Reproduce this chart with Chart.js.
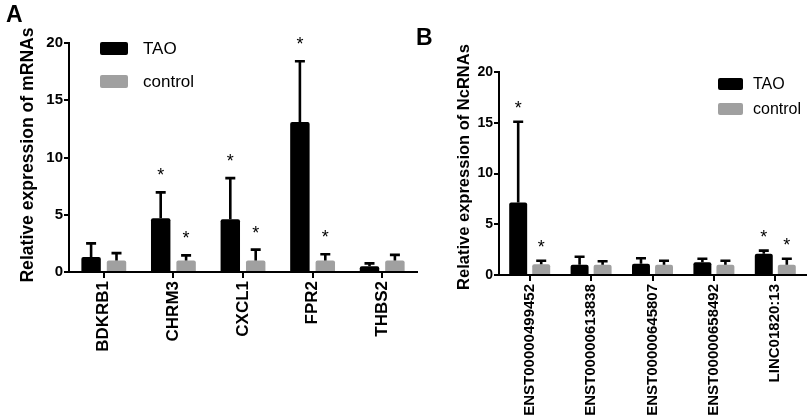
<!DOCTYPE html>
<html>
<head>
<meta charset="utf-8">
<script src="https://cdn.jsdelivr.net/npm/chart.js@4.4.1/dist/chart.umd.min.js"></script>
<style>
  body { margin: 0; background: #fff; }
  #wrap { position: relative; width: 809px; height: 420px; overflow: hidden; }
  .panel { position: absolute; top: 0; height: 420px; }
  .letter { position: absolute; font: bold 23px "Liberation Sans", Arial, sans-serif; color: #000; }
</style>
</head>
<body>
<div id="wrap">
  <div class="panel" style="left:0;width:425px"><canvas id="chartA"></canvas></div>
  <div class="panel" style="left:425px;width:384px"><canvas id="chartB"></canvas></div>
  <div class="letter" style="left:6px;top:1px">A</div>
  <div class="letter" style="left:416px;top:24px">B</div>
</div>
<script>
// panel A - mRNAs
const mrnaGenes = ["BDKRB1", "CHRM3", "CXCL1", "FPR2", "THBS2"];
const mrnaTao = [1.3, 4.7, 4.6, 13.1, 0.5];
const mrnaTaoSd = [1.2, 2.25, 3.6, 5.3, 0.25];
const mrnaCtrl = [1.0, 1.0, 1.0, 1.0, 1.0];
const mrnaCtrlSd = [0.65, 0.45, 0.95, 0.55, 0.5];
const mrnaTaoSig = [false, true, true, true, false];
const mrnaCtrlSig = [false, true, true, true, false];

// panel B - NcRNAs
const ncGenes = ["ENST00000499452", "ENST00000613838", "ENST00000645807", "ENST00000658492", "LINC01820:13"];
const ncTao = [7.15, 1.0, 1.1, 1.25, 2.1];
const ncTaoSd = [7.95, 0.8, 0.55, 0.35, 0.3];
const ncCtrl = [1.05, 1.0, 1.0, 1.0, 1.0];
const ncCtrlSd = [0.35, 0.35, 0.4, 0.4, 0.6];
const ncTaoSig = [true, false, false, false, true];
const ncCtrlSig = [true, false, false, false, true];

const yTicks = [0, 5, 10, 15, 20];

const FONT = '"Liberation Sans", Arial, sans-serif';
const TAO_COLOR = "#000000";
const CTRL_COLOR = "#a0a0a0";

// error bars (upper only), asterisks, y title and the inset legend
const errorBarPlugin = {
  id: "errorBars",
  afterDatasetsDraw(chart, args, opts) {
    const ctx = chart.ctx;
    const y = chart.scales.y;
    ctx.save();
    chart.data.datasets.forEach((ds, di) => {
      const meta = chart.getDatasetMeta(di);
      meta.data.forEach((bar, i) => {
        const top = y.getPixelForValue(ds.data[i] + ds.sd[i]);
        const base = y.getPixelForValue(ds.data[i]);
        ctx.strokeStyle = "#000";
        ctx.lineWidth = 2.6;
        ctx.beginPath();
        ctx.moveTo(bar.x, base);
        ctx.lineTo(bar.x, top);
        ctx.moveTo(bar.x - 5, top);
        ctx.lineTo(bar.x + 5, top);
        ctx.stroke();
        if (ds.sig[i]) {
          ctx.fillStyle = "#000";
          ctx.font = "18px " + FONT;
          ctx.textAlign = "center";
          ctx.textBaseline = "alphabetic";
          ctx.fillText("*", bar.x, top - opts.starGap);
        }
      });
    });

    // y axis title
    const T = opts.title;
    ctx.save();
    ctx.translate(T.x, T.y);
    ctx.rotate(-Math.PI / 2);
    ctx.fillStyle = "#000";
    ctx.font = "bold " + T.size + "px " + FONT;
    ctx.textAlign = "center";
    ctx.textBaseline = "middle";
    ctx.fillText(T.text, 0, 0);
    ctx.restore();

    // legend
    const L = opts.legend;
    const ca = chart.chartArea;
    chart.data.datasets.forEach((ds, di) => {
      const bx = ca.left + L.dx;
      const by = ca.top + L.dy + di * L.step;
      ctx.fillStyle = ds.backgroundColor;
      ctx.beginPath();
      ctx.roundRect(bx, by, L.w, L.h, 2);
      ctx.fill();
      ctx.fillStyle = "#000";
      ctx.font = L.size + "px " + FONT;
      ctx.textAlign = "left";
      ctx.textBaseline = "middle";
      ctx.fillText(ds.label, bx + L.w + L.gap, by + L.h / 2 + 1);
    });
    ctx.restore();
  }
};

function makeChart(id, labels, tao, taoSd, taoSig, ctrl, ctrlSd, ctrlSig, cfg) {
  new Chart(document.getElementById(id), {
    type: "bar",
    data: {
      labels: labels,
      datasets: [
        { label: "TAO", data: tao, sd: taoSd, sig: taoSig, backgroundColor: TAO_COLOR,
          barPercentage: cfg.barPct, categoryPercentage: cfg.catPct,
          borderRadius: { topLeft: 2, topRight: 2 }, borderSkipped: "bottom" },
        { label: "control", data: ctrl, sd: ctrlSd, sig: ctrlSig, backgroundColor: CTRL_COLOR,
          barPercentage: cfg.barPct, categoryPercentage: cfg.catPct,
          borderRadius: { topLeft: 2, topRight: 2 }, borderSkipped: "bottom" }
      ]
    },
    options: {
      responsive: true,
      maintainAspectRatio: false,
      animation: false,
      layout: { padding: cfg.padding },
      plugins: {
        legend: { display: false },
        tooltip: { enabled: false },
        errorBars: { starGap: cfg.starGap, legend: cfg.legend, title: cfg.title }
      },
      scales: {
        x: {
          afterFit: s => { s.height = cfg.xHeight; },
          grid: { display: true, offset: false, drawOnChartArea: false, drawTicks: true,
                  tickLength: 6, color: "#000", lineWidth: 2 },
          border: { display: true, color: "#000", width: 2 },
          ticks: { color: "#000", font: { family: FONT, size: cfg.xFont, weight: "bold" },
                   minRotation: 90, maxRotation: 90, padding: 3, autoSkip: false }
        },
        y: {
          min: 0,
          max: 20,
          afterFit: s => { s.width = cfg.yWidth; },
          afterBuildTicks: s => { s.ticks = yTicks.map(v => ({ value: v })); },
          grid: { display: true, drawOnChartArea: false, drawTicks: true,
                  tickLength: 5, color: "#000", lineWidth: 2 },
          border: { display: true, color: "#000", width: 2 },
          ticks: { color: "#000", padding: 1, font: { family: FONT, size: cfg.yFont, weight: "bold" } }
        }
      }
    },
    plugins: [errorBarPlugin]
  });
}

makeChart("chartA", mrnaGenes, mrnaTao, mrnaTaoSd, mrnaTaoSig, mrnaCtrl, mrnaCtrlSd, mrnaCtrlSig, {
  barPct: 0.765, catPct: 0.73,
  padding: { left: 0, right: 8, top: 43, bottom: 0 },
  xHeight: 148, yWidth: 69, xFont: 17, yFont: 15, starGap: 11,
  title: { text: "Relative expression of mRNAs", x: 28, y: 155, size: 17.6 },
  legend: { dx: 31, dy: -1, step: 33, w: 28, h: 13, gap: 15, size: 17 }
});

makeChart("chartB", ncGenes, ncTao, ncTaoSd, ncTaoSig, ncCtrl, ncCtrlSd, ncCtrlSig, {
  barPct: 0.78, catPct: 0.75,
  padding: { left: 0, right: 3, top: 72, bottom: 0 },
  xHeight: 145, yWidth: 74, xFont: 15, yFont: 14, starGap: 8,
  title: { text: "Relative expression of NcRNAs", x: 39, y: 167, size: 16.5 },
  legend: { dx: 219, dy: 6, step: 25, w: 25, h: 12, gap: 10, size: 16 }
});
</script>
</body>
</html>
